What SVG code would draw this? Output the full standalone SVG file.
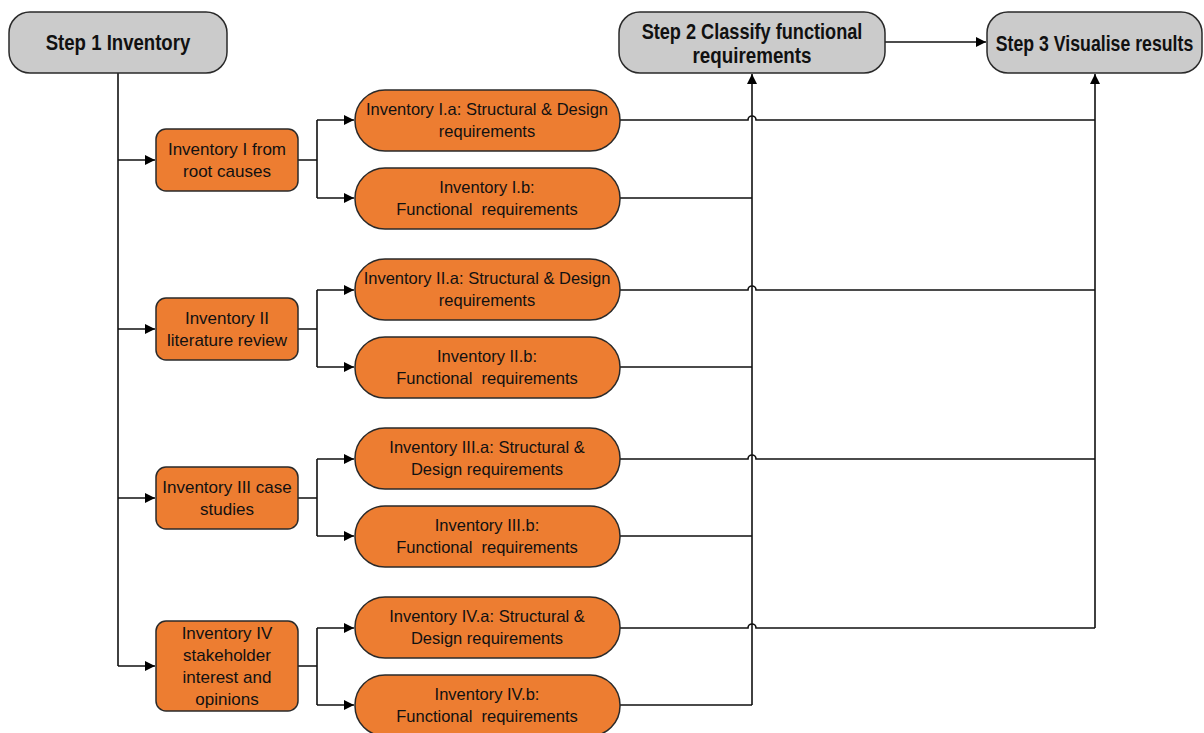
<svg xmlns="http://www.w3.org/2000/svg" width="1204" height="733" viewBox="0 0 1204 733">
  <style>
    .step { fill: #cbcbcb; stroke: #2a2a2a; stroke-width: 1.5; }
    .inv { fill: #ed7d31; stroke: #2a2a2a; stroke-width: 1.5; }
    .st { font-family: "Liberation Sans", Arial, sans-serif; font-weight: bold; font-size: 22px; fill: #111; text-anchor: middle; }
    .t1 { font-family: "Liberation Sans", Arial, sans-serif; font-size: 17px; fill: #111; text-anchor: middle; }
    .t2 { font-family: "Liberation Sans", Arial, sans-serif; font-size: 16.5px; fill: #111; text-anchor: middle; white-space: pre; }
    .ln { fill: none; stroke: #111; stroke-width: 1.6; }
    .ar { fill: none; stroke: #111; stroke-width: 1.6; marker-end: url(#head); }
  </style>
  <defs>
    <marker id="head" markerUnits="userSpaceOnUse" markerWidth="11" markerHeight="11" refX="10" refY="5" orient="auto">
      <path d="M0,0 L10,5 L0,10 z" fill="#000"/>
    </marker>
  </defs>

  <!-- connectors -->
  <g id="connectors">
    <!-- trunk from step 1 to the four inventories -->
    <path class="ln" d="M118,73 V666"/>
    <path class="ar" d="M118,160 H155"/>
    <path class="ar" d="M118,329 H155"/>
    <path class="ar" d="M118,498 H155"/>
    <path class="ar" d="M118,666 H155"/>

    <!-- splits into a / b -->
    <path class="ln" d="M298,160 H317 M317,120 V198"/>
    <path class="ar" d="M317,120 H354"/>
    <path class="ar" d="M317,198 H354"/>
    <path class="ln" d="M298,329 H317 M317,290 V367"/>
    <path class="ar" d="M317,290 H354"/>
    <path class="ar" d="M317,367 H354"/>
    <path class="ln" d="M298,498 H317 M317,459 V536"/>
    <path class="ar" d="M317,459 H354"/>
    <path class="ar" d="M317,536 H354"/>
    <path class="ln" d="M298,666 H317 M317,628 V705"/>
    <path class="ar" d="M317,628 H354"/>
    <path class="ar" d="M317,705 H354"/>

    <!-- functional requirements to step 2 -->
    <path class="ln" d="M620,198 H752 M620,367 H752 M620,536 H752 M620,705 H752"/>
    <path class="ar" d="M752,705 V74"/>

    <!-- structural & design requirements to step 3, hopping over the step 2 line -->
    <path class="ln" d="M620,120 H748 a4,4 0 0 1 8,0 H1095"/>
    <path class="ln" d="M620,290 H748 a4,4 0 0 1 8,0 H1095"/>
    <path class="ln" d="M620,459 H748 a4,4 0 0 1 8,0 H1095"/>
    <path class="ln" d="M620,628 H748 a4,4 0 0 1 8,0 H1095"/>
    <path class="ar" d="M1095,628 V74"/>

    <!-- step 2 to step 3 -->
    <path class="ar" d="M885,42 H986"/>
  </g>

  <!-- steps (bold labels drawn condensed) -->
  <g id="step1">
    <rect class="step" x="9" y="12" width="218" height="61" rx="21"/>
    <text class="st" transform="translate(118,49.5) scale(0.845,1)">Step 1 Inventory</text>
  </g>
  <g id="step2">
    <rect class="step" x="619" y="12" width="266" height="61" rx="21"/>
    <text class="st" transform="translate(752,38.5) scale(0.825,1)">Step 2 Classify functional</text>
    <text class="st" transform="translate(752,62.5) scale(0.855,1)">requirements</text>
  </g>
  <g id="step3">
    <rect class="step" x="987" y="12" width="215" height="61" rx="21"/>
    <text class="st" transform="translate(1094.5,51) scale(0.805,1)">Step 3 Visualise results</text>
  </g>

  <!-- inventory sources -->
  <g id="inv1">
    <rect class="inv" x="156" y="129" width="142" height="62" rx="10"/>
    <text class="t1" x="227" y="155">Inventory I from</text>
    <text class="t1" x="227" y="177">root causes</text>
  </g>
  <g id="inv2">
    <rect class="inv" x="156" y="298" width="142" height="62" rx="10"/>
    <text class="t1" x="227" y="324">Inventory II</text>
    <text class="t1" x="227" y="346">literature review</text>
  </g>
  <g id="inv3">
    <rect class="inv" x="156" y="467" width="142" height="62" rx="10"/>
    <text class="t1" x="227" y="493">Inventory III case</text>
    <text class="t1" x="227" y="515">studies</text>
  </g>
  <g id="inv4">
    <rect class="inv" x="156" y="621" width="142" height="90" rx="10"/>
    <text class="t1" x="227" y="639">Inventory IV</text>
    <text class="t1" x="227" y="661">stakeholder</text>
    <text class="t1" x="227" y="683">interest and</text>
    <text class="t1" x="227" y="705">opinions</text>
  </g>

  <!-- requirement lists -->
  <g id="inv1a">
    <rect class="inv" x="355" y="90" width="265" height="61" rx="30"/>
    <text class="t2" x="487" y="115">Inventory I.a: Structural &amp; Design</text>
    <text class="t2" x="487" y="137">requirements</text>
  </g>
  <g id="inv1b">
    <rect class="inv" x="355" y="168" width="265" height="61" rx="30"/>
    <text class="t2" x="487" y="193">Inventory I.b:</text>
    <text class="t2" x="487" y="215">Functional  requirements</text>
  </g>
  <g id="inv2a">
    <rect class="inv" x="355" y="259" width="265" height="61" rx="30"/>
    <text class="t2" x="487" y="284">Inventory II.a: Structural &amp; Design</text>
    <text class="t2" x="487" y="306">requirements</text>
  </g>
  <g id="inv2b">
    <rect class="inv" x="355" y="337" width="265" height="61" rx="30"/>
    <text class="t2" x="487" y="362">Inventory II.b:</text>
    <text class="t2" x="487" y="384">Functional  requirements</text>
  </g>
  <g id="inv3a">
    <rect class="inv" x="355" y="428" width="265" height="61" rx="30"/>
    <text class="t2" x="487" y="453">Inventory III.a: Structural &amp;</text>
    <text class="t2" x="487" y="475">Design requirements</text>
  </g>
  <g id="inv3b">
    <rect class="inv" x="355" y="506" width="265" height="61" rx="30"/>
    <text class="t2" x="487" y="531">Inventory III.b:</text>
    <text class="t2" x="487" y="553">Functional  requirements</text>
  </g>
  <g id="inv4a">
    <rect class="inv" x="355" y="597" width="265" height="61" rx="30"/>
    <text class="t2" x="487" y="622">Inventory IV.a: Structural &amp;</text>
    <text class="t2" x="487" y="644">Design requirements</text>
  </g>
  <g id="inv4b">
    <rect class="inv" x="355" y="675" width="265" height="61" rx="30"/>
    <text class="t2" x="487" y="700">Inventory IV.b:</text>
    <text class="t2" x="487" y="722">Functional  requirements</text>
  </g>
</svg>
